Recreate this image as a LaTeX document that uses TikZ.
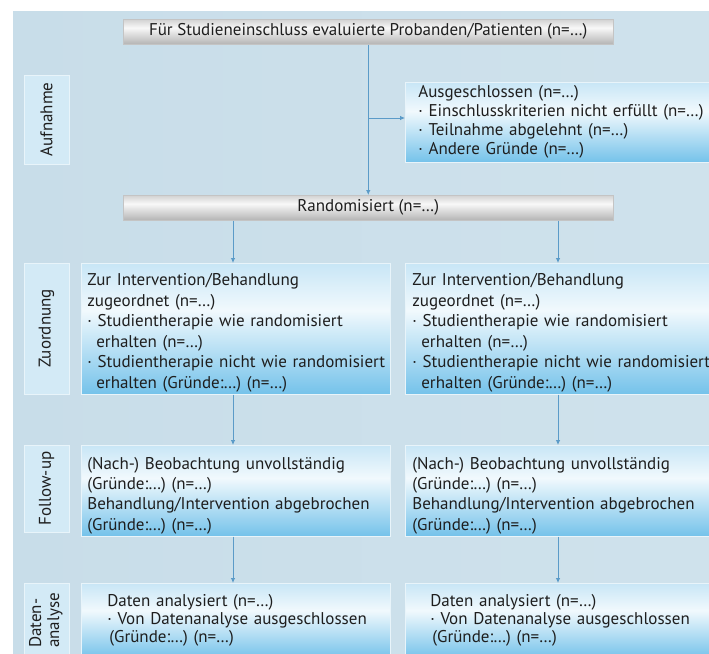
\documentclass[tikz,border=0pt]{standalone}
\usepackage{fontspec}
\setmainfont{PT Sans}
\usetikzlibrary{arrows.meta}
\definecolor{bgL}{HTML}{C8DDE9}
\definecolor{bgM}{HTML}{E5EFF5}
\definecolor{bgR}{HTML}{CFE2EC}
\definecolor{bxtop}{HTML}{C8E6F6}
\definecolor{bxmid}{HTML}{F1F9FD}
\definecolor{bxbot}{HTML}{74C2EA}
\definecolor{gtop}{HTML}{D2D2D2}
\definecolor{gmid}{HTML}{F8F8F8}
\definecolor{gbot}{HTML}{B4B4B4}
\definecolor{boxedge}{HTML}{E8F4FA}
\definecolor{baredge}{HTML}{C4C4C4}
\definecolor{labfill}{HTML}{D3EAF6}
\definecolor{conncol}{HTML}{5B9BC8}
\definecolor{txt}{HTML}{1E1E1E}
\pgfdeclareverticalshading{bluebox}{100bp}{color(0bp)=(bxbot); color(25bp)=(bxbot); color(57bp)=(bxmid); color(75bp)=(bxtop); color(100bp)=(bxtop)}
\pgfdeclareverticalshading{graybar}{100bp}{color(0bp)=(gbot); color(25bp)=(gbot); color(58bp)=(gmid); color(75bp)=(gtop); color(100bp)=(gtop)}
\newcommand{\lns}[1]{\begin{tabular}{@{}l@{}}#1\end{tabular}}
\begin{document}
\begin{tikzpicture}[x=1pt,y=-1pt,
  box/.style={shading=bluebox, draw=boxedge, line width=0.7pt, anchor=north west,
    inner ysep=0pt, align=left, text=txt, font=\fontsize{17}{20.5}\selectfont},
  bar/.style={shading=graybar, draw=baredge, line width=0.5pt, anchor=north west,
    minimum width=490pt, minimum height=25pt, inner sep=0pt, text=txt,
    font=\fontsize{17}{18}\selectfont},
  lab/.style={fill=labfill, draw=boxedge, line width=0.7pt, rotate=90, minimum height=45pt,
    inner sep=0pt, text=txt, font=\fontsize{17}{18}\selectfont},
  conn/.style={draw=conncol, line width=0.8pt, -{Latex[length=5pt,width=4.5pt]}}]
\useasboundingbox (0,0) rectangle (709,653);
\clip (0,0) rectangle (709,653);
\fill[white] (0,0) rectangle (709,653);
\shade[left color=bgL, middle color=bgM, right color=bgR] (13,11) rectangle (709,653);

% side labels
\node[lab, minimum width=89pt] (lA) at (46.5,119.5) {Aufnahme};
\node[lab, minimum width=131pt] (lZ) at (46.5,328.5) {Zuordnung};
\node[lab, minimum width=87pt] (lF) at (46.5,488.5) {Follow-up};
\node[lab, minimum width=75pt] (lD) at (46.5,620.5) {\lns{Daten-\\analyse}};

% gray bars
\node[bar] (top) at (123,19) {Für Studieneinschluss evaluierte Probanden/Patienten (n=…)};
\node[bar] (rand) at (123,195) {Randomisiert (n=…)};

% excluded
\node[box, inner xsep=13pt, text width=300pt, minimum height=80pt, font=\fontsize{17}{19}\selectfont] (ex) at (405,82)
  {\lns{Ausgeschlossen (n=…)\\· Einschlusskriterien nicht erfüllt (n=…)\\· Teilnahme abgelehnt (n=…)\\· Andere Gründe (n=…)}};

% allocation
\node[box, inner xsep=6pt, text width=297pt, minimum height=131pt] (zl) at (81,263)
  {\lns{\rule{0pt}{22pt}Zur Intervention/Behandlung\\zugeordnet (n=…)\\· Studientherapie wie randomisiert\\\hspace*{9pt}erhalten (n=…)\\· Studientherapie nicht wie randomisiert\\\hspace*{9pt}erhalten (Gründe:…) (n=…)}};
\node[box, inner xsep=7pt, text width=320pt, minimum height=131pt] (zr) at (405,263)
  {\lns{\rule{0pt}{22pt}Zur Intervention/Behandlung\\zugeordnet (n=…)\\· Studientherapie wie randomisiert\\\hspace*{9pt}erhalten (n=…)\\· Studientherapie nicht wie randomisiert\\\hspace*{9pt}erhalten (Gründe:…) (n=…)}};

% follow-up
\node[box, inner xsep=6pt, text width=297pt, minimum height=87pt, font=\fontsize{17}{20.3}\selectfont] (fl) at (81,445)
  {\lns{\rule{0pt}{24pt}(Nach-) Beobachtung unvollständig\\(Gründe:…) (n=…)\\Behandlung/Intervention abgebrochen\\(Gründe:…) (n=…)}};
\node[box, inner xsep=7pt, text width=320pt, minimum height=87pt, font=\fontsize{17}{20.3}\selectfont] (fr) at (405,445)
  {\lns{\rule{0pt}{24pt}(Nach-) Beobachtung unvollständig\\(Gründe:…) (n=…)\\Behandlung/Intervention abgebrochen\\(Gründe:…) (n=…)}};

% analysis
\node[box, inner xsep=26pt, text width=257pt, minimum height=75pt, font=\fontsize{17}{18.3}\selectfont] (dl) at (81,583)
  {\lns{Daten analysiert (n=…)\\· Von Datenanalyse ausgeschlossen\\\hspace*{2pt}(Gründe:…) (n=…)}};
\node[box, inner xsep=25pt, text width=300pt, minimum height=75pt, font=\fontsize{17}{18.3}\selectfont] (dr) at (405,583)
  {\lns{Daten analysiert (n=…)\\· Von Datenanalyse ausgeschlossen\\\hspace*{2pt}(Gründe:…) (n=…)}};

% connectors
\coordinate (j) at (368,118);
\coordinate (cL) at (233,0);
\coordinate (cR) at (558,0);
\draw[conn] (top.south) -- (rand.north);
\draw[conn] (j) -- (j -| ex.west);
\draw[conn] (rand.south -| cL) -- (zl.north -| cL);
\draw[conn] (rand.south -| cR) -- (zr.north -| cR);
\draw[conn] (zl.south -| cL) -- (fl.north -| cL);
\draw[conn] (zr.south -| cR) -- (fr.north -| cR);
\draw[conn] (fl.south -| cL) -- (dl.north -| cL);
\draw[conn] (fr.south -| cR) -- (dr.north -| cR);
\end{tikzpicture}
\end{document}
